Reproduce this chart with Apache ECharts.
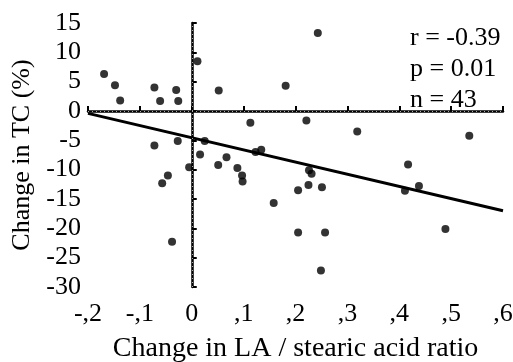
<!DOCTYPE html>
<html><head><meta charset="utf-8">
<script src="https://cdn.jsdelivr.net/npm/echarts@6/dist/echarts.min.js"></script>
<style>html,body{margin:0;padding:0;background:#fff}#c{width:513px;height:362px}</style>
</head><body><div id="c"></div>
<script>
var xValues = [-0.169,-0.148,-0.138,-0.072,-0.061,-0.030,-0.026,0.011,0.052,0.113,0.243,0.181,0.221,0.319,0.535,-0.072,-0.027,0.025,0.016,0.051,0.067,0.088,0.097,0.098,0.123,0.134,-0.005,-0.046,-0.057,-0.038,0.226,0.231,0.205,0.225,0.251,0.158,0.205,0.257,0.249,0.411,0.438,0.489,0.417];
var yValues = [6.3,4.4,1.8,4.0,1.7,3.6,1.7,8.5,3.5,-2.0,13.3,4.3,-1.6,-3.5,-4.2,-5.9,-5.1,-5.1,-7.4,-9.2,-7.9,-9.7,-11.0,-12.0,-7.0,-6.6,-9.6,-11.0,-12.3,-22.3,-10.1,-10.7,-13.5,-12.6,-13.0,-15.7,-20.7,-20.7,-27.2,-13.6,-12.8,-20.1,-9.1];
var fitX = [-0.2, 0.6];
var fitY = [-0.4, -17.0];
var xTickLabels = ['-,2','-,1','0',',1',',2',',3',',4',',5',',6'];
var statsText = ['r = -0.39','p = 0.01','n = 43'];

var pts = xValues.map(function(x,i){return [x,yValues[i]];});
var fit = fitX.map(function(x,i){return [x,fitY[i]];});
var font = 'Liberation Serif';
var dotStyle = {color:'#aaa',type:[1,3],width:1};
var chart = echarts.init(document.getElementById('c'));
chart.setOption({
  animation:false,
  backgroundColor:'#fff',
  grid:{left:88,right:10,top:23,bottom:75,outerBoundsMode:'none',containLabel:false},
  xAxis:{type:'value',min:-0.2,max:0.6,interval:0.1,
    name:'Change in LA / stearic acid ratio',nameLocation:'middle',nameGap:48,
    nameTextStyle:{fontFamily:font,fontSize:28,color:'#000'},
    axisLine:{lineStyle:{color:'#000',width:2.5}},
    axisTick:{inside:true,length:5,lineStyle:{color:'#000',width:2}},
    axisLabel:{fontFamily:font,fontSize:26,color:'#000',margin:14,
      formatter:function(v){return xTickLabels[Math.round((v+0.2)/0.1)];}},
    splitLine:{show:false}},
  yAxis:{type:'value',min:-30,max:15,interval:5,
    name:'Change in TC (%)',nameLocation:'middle',nameGap:48,
    nameTextStyle:{fontFamily:font,fontSize:26,color:'#000'},
    axisLine:{lineStyle:{color:'#000',width:2.5}},
    axisTick:{inside:true,length:5,lineStyle:{color:'#000',width:2}},
    axisLabel:{fontFamily:font,fontSize:26,color:'#000',margin:7},
    splitLine:{show:false}},
  graphic:[{type:'text',left:410,top:23,style:{text:statsText.join('\n'),fontFamily:font,fontSize:26,lineHeight:31,fill:'#000'}}],
  series:[
    {type:'scatter',data:pts,symbolSize:8,itemStyle:{color:'#000'},z:3,
     markLine:{silent:true,symbol:'none',label:{show:false},
       lineStyle:dotStyle,emphasis:{disabled:true},
       data:[{xAxis:0,lineStyle:dotStyle},{yAxis:0,lineStyle:dotStyle}]}},
    {type:'line',data:fit,symbol:'none',lineStyle:{color:'#000',width:3},z:2}
  ]
});
</script></body></html>
